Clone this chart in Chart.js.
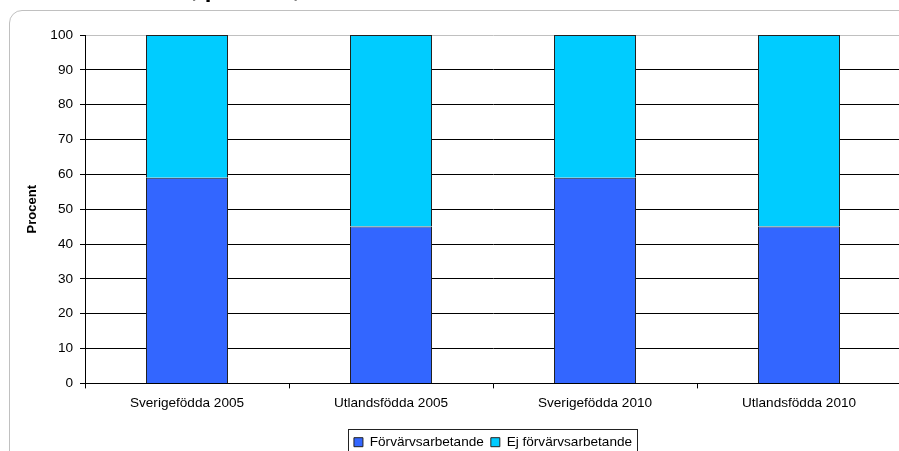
<!DOCTYPE html>
<html>
<head>
<meta charset="utf-8">
<script src="https://cdn.jsdelivr.net/npm/chart.js@4.4.1/dist/chart.umd.min.js"></script>
<style>
  html, body { margin: 0; padding: 0; background: #fff; overflow: hidden; width: 899px; height: 451px; }
  #frame { position: absolute; left: 9px; top: 10px; width: 1200px; height: 1200px; border: 1px solid #c0c0c0; border-radius: 13px; }
  #wrap { position: absolute; left: 0; top: 0; width: 901px; height: 459px; }
</style>
</head>
<body>
<div id="frame"></div>
<div id="wrap"><canvas id="chart"></canvas></div>
<script>
// data
const categories = ["Sverigefödda 2005", "Utlandsfödda 2005", "Sverigefödda 2010", "Utlandsfödda 2010"];
const working = [59, 45, 59, 45];
const notWorking = [41, 55, 41, 55];
const seriesNames = ["Förvärvsarbetande", "Ej förvärvsarbetande"];
const yTitle = "Procent";
const chartTitle = "Förvärvsarbetande, procent, 2005 och 2010";

const FONT = '"Liberation Sans", Arial, sans-serif';

// legend centred on the plot area, with a frame round it (Excel style)
const legendFrame = {
  id: "legendFrame",
  afterLayout(chart) {
    const lg = chart.legend;
    lg.left = chart.chartArea.left;
    lg.right = chart.chartArea.right;
  },
  afterDraw(chart) {
    const lg = chart.legend;
    const pad = lg.options.labels.padding;
    const fs = lg.options.labels.font.size;
    const contentW = lg.lineWidths[0] - pad;
    const cx = (lg.left + lg.right) / 2;
    const mid = lg.top + pad + fs / 2;
    const ctx = chart.ctx;
    ctx.save();
    ctx.strokeStyle = "#222";
    ctx.lineWidth = 1;
    const x0 = Math.round(cx - contentW / 2 - 6) + 0.5;
    const x1 = Math.round(cx + contentW / 2 + 5) + 0.5;
    const y0 = Math.round(mid - 13) + 0.5;
    const y1 = Math.round(mid + 12) + 0.5;
    ctx.strokeRect(x0, y0, x1 - x0, y1 - y0);

    // title sits above the frame, only its bottom edge is in view
    ctx.font = "bold 24px " + FONT;
    ctx.fillStyle = "#000";
    ctx.textBaseline = "alphabetic";
    const pre = chartTitle.split(",")[0];
    const tx = 193 - 1.7 - ctx.measureText(pre).width;
    ctx.fillText(chartTitle, tx, -3);
    ctx.restore();
  }
};

new Chart(document.getElementById("chart"), {
  type: "bar",
  data: {
    labels: categories,
    datasets: [
      { label: seriesNames[0], data: working, backgroundColor: "#3366ff", borderColor: "#222", borderWidth: 1 },
      { label: seriesNames[1], data: notWorking, backgroundColor: "#00ccff", borderColor: "#222", borderWidth: 1 }
    ]
  },
  options: {
    responsive: true,
    maintainAspectRatio: false,
    animation: false,
    barThickness: 82,
    inflateAmount: 0,
    layout: { padding: { left: 0, top: 35, right: 0, bottom: 0 } },
    plugins: {
      tooltip: { enabled: false },
      legend: {
        position: "bottom",
        labels: {
          boxWidth: 9, boxHeight: 9, padding: 7, color: "#000",
          font: { family: FONT, size: 13.6 }
        }
      }
    },
    scales: {
      x: {
        stacked: true,
        afterFit(scale) { scale.height = 45; },
        grid: { offset: true, drawOnChartArea: false, color: "#000", tickLength: 5 },
        border: { color: "#000" },
        ticks: { color: "#000", padding: 7, maxRotation: 0, font: { family: FONT, size: 13.6 } }
      },
      y: {
        stacked: true,
        min: 0, max: 100,
        afterFit(scale) { scale.width = 85; },
        grid: {
          color: (c) => (c.tick && c.tick.value === 100 ? "#c0c0c0" : "#000"),
          tickColor: "#000",
          tickLength: 5
        },
        border: { color: "#000" },
        ticks: { stepSize: 10, color: "#000", padding: 7, font: { family: FONT, size: 13.6 } },
        title: {
          display: true, text: yTitle, color: "#000",
          padding: { top: 25, bottom: 0 },
          font: { family: FONT, size: 13, weight: "bold" }
        }
      }
    }
  },
  plugins: [legendFrame]
});
</script>
</body>
</html>
